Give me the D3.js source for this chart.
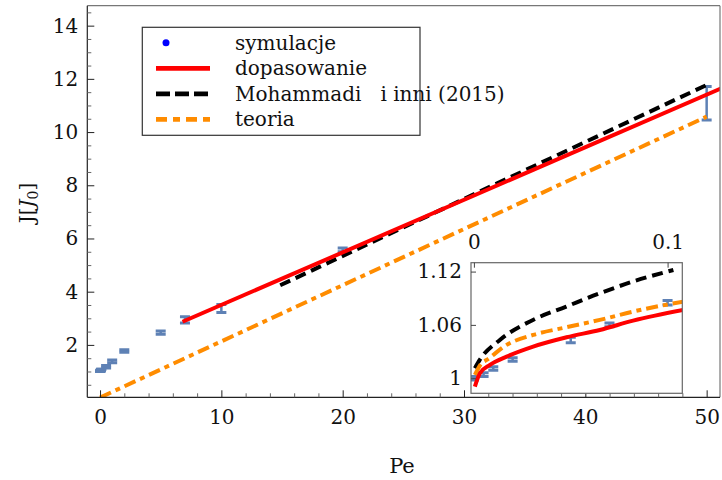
<!DOCTYPE html>
<html><head><meta charset="utf-8">
<script src="https://cdn.jsdelivr.net/npm/d3@7"></script>
<style>
html,body{margin:0;padding:0;background:#fff;}
text{font-family:"DejaVu Serif",serif;fill:#111;}
</style></head>
<body><svg id="c" width="722" height="480"></svg>
<script>
// ---------- data ----------
const simPe  = [0, 0.005, 0.01, 0.02, 0.05, 0.07, 0.1, 0.5, 1, 2, 5, 7, 10, 20, 50];
const simJ   = [1.0, 1.004, 1.011, 1.021, 1.043, 1.060, 1.085, 1.18, 1.38, 1.77, 2.46, 2.94, 3.37, 5.57, 11.08];
const simErr = [0.002, 0.002, 0.002, 0.002, 0.003, 0.002, 0.0025, 0.05, 0.05, 0.05, 0.06, 0.12, 0.15, 0.07, 0.63];

// main-plot curves
const fitPe   = [6.8, 51.5];
const fitJ    = [2.87, 11.70];
const mohPe   = [14.85, 50];
const mohJ    = [4.24, 11.77];
const teoPe   = [0, 50];
const teoJ    = [0.02, 10.58];

// inset curves
const fitInPe = [0.0005, 0.0031, 0.0083, 0.0169, 0.0306, 0.0479, 0.065, 0.0822, 0.108];
const fitInJ  = [0.9906, 1.0056, 1.015, 1.0243, 1.0356, 1.0461, 1.0543, 1.0648, 1.0768];
const mohInPe = [0.0005, 0.003, 0.0134, 0.0305, 0.0477, 0.065, 0.082, 0.103];
const mohInJ  = [1.0113, 1.0206, 1.0431, 1.0656, 1.0806, 1.0956, 1.1087, 1.1218];
const teoInPe = [0.0005, 0.004, 0.0066, 0.0169, 0.0306, 0.0479, 0.065, 0.0822, 0.108];
const teoInJ  = [1.0037, 1.0169, 1.0206, 1.0375, 1.0487, 1.0574, 1.0656, 1.075, 1.0862];

const xMajor = [0, 10, 20, 30, 40, 50];
const yMajor = [2, 4, 6, 8, 10, 12, 14];
const insetXTicks = [0, 0.1];
const insetXLabels = ["0", "0.1"];
const insetYTicks = [1, 1.06, 1.12];
const insetYLabels = ["1", "1.06", "1.12"];
const legendLabels = ["symulacje", "dopasowanie", "Mohammadi   i inni (2015)", "teoria"];

// ---------- drawing ----------
const svg = d3.select("#c");
const C = {fit:"#ff0000", moh:"#000000", teo:"#ff8c00", sim:"#5e81b5"};

const L = 87.3, R = 720, T = 5.7, B = 397.3;
const x = d3.scaleLinear().domain([-1.05, 51.1]).range([L, R]);
const y = d3.scaleLinear().domain([0.03, 14.75]).range([B, T]);

svg.append("defs").append("clipPath").attr("id","cm")
  .append("rect").attr("x",L).attr("y",T).attr("width",R-L).attr("height",B-T);

const gMain = svg.append("g").attr("clip-path","url(#cm)");

function drawLine(g, xs, ys, sx, sy, color, dash, w){
  const pts = xs.map((v,i)=>[v, ys[i]]);
  g.append("path").datum(pts)
    .attr("d", d3.line().x(d=>sx(d[0])).y(d=>sy(d[1])).curve(d3.curveMonotoneX))
    .attr("fill","none").attr("stroke",color).attr("stroke-width",w)
    .attr("stroke-dasharray",dash||null);
}
function drawErr(g, sx, sy, xs, ys, es, pe){
  xs.forEach((v,i)=>{
    const cx = sx(v), y1 = sy(ys[i]+es[i]), y2 = sy(ys[i]-es[i]);
    g.append("line").attr("x1",cx).attr("x2",cx).attr("y1",y1).attr("y2",y2)
      .attr("stroke",C.sim).attr("stroke-width",2.5);
    [y1,y2].forEach(yy=>g.append("line").attr("x1",cx-5).attr("x2",cx+5)
      .attr("y1",yy).attr("y2",yy).attr("stroke",C.sim).attr("stroke-width",3));
  });
}

drawErr(gMain, x, y, simPe, simJ, simErr);
drawLine(gMain, teoPe, teoJ, x, y, C.teo, "12,5,5,5", 4);
drawLine(gMain, mohPe, mohJ, x, y, C.moh, "11,6", 4);
drawLine(gMain, fitPe, fitJ, x, y, C.fit, null, 4);

// frame
svg.append("line").attr("x1",L).attr("x2",R).attr("y1",T).attr("y2",T).attr("stroke","#777").attr("stroke-width",1.2);
svg.append("line").attr("x1",R).attr("x2",R).attr("y1",T).attr("y2",B).attr("stroke","#777").attr("stroke-width",1.2);
svg.append("line").attr("x1",L).attr("x2",R).attr("y1",B).attr("y2",B).attr("stroke","#222").attr("stroke-width",1.2);
svg.append("line").attr("x1",L).attr("x2",L).attr("y1",T).attr("y2",B).attr("stroke","#222").attr("stroke-width",1.2);

// ticks
const xAxis = d3.axisBottom(x).tickValues(xMajor).tickSize(-7).tickPadding(13).tickFormat(d3.format("d"));
const gx = svg.append("g").attr("transform",`translate(0,${B})`).call(xAxis);
gx.select(".domain").remove();
gx.selectAll("line").attr("stroke","#222");
gx.selectAll("text").attr("font-size",20).attr("font-family","DejaVu Serif").attr("fill","#111");
const xMinor = d3.range(2, 51, 2).filter(v=>v%10!==0);
const gxm = svg.append("g").attr("transform",`translate(0,${B})`)
  .call(d3.axisBottom(x).tickValues(xMinor).tickSize(-4).tickFormat(""));
gxm.select(".domain").remove(); gxm.selectAll("line").attr("stroke","#666");

const yAxis = d3.axisLeft(y).tickValues(yMajor).tickSize(-7).tickPadding(9).tickFormat(d3.format("d"));
const gy = svg.append("g").attr("transform",`translate(${L},0)`).call(yAxis);
gy.select(".domain").remove();
gy.selectAll("line").attr("stroke","#222");
gy.selectAll("text").attr("font-size",20).attr("font-family","DejaVu Serif").attr("fill","#111");
const yMinor = d3.range(0.5, 14.75, 0.5).filter(v=>v%2!==0);
const gym = svg.append("g").attr("transform",`translate(${L},0)`)
  .call(d3.axisLeft(y).tickValues(yMinor).tickSize(-4).tickFormat(""));
gym.select(".domain").remove(); gym.selectAll("line").attr("stroke","#666");

// axis labels
svg.append("text").attr("x",402).attr("y",473).attr("text-anchor","middle").attr("font-size",21).text("Pe");
const yl = svg.append("text").attr("transform","translate(34,203) rotate(-90)").attr("text-anchor","middle").attr("font-size",20);
yl.append("tspan").text("J[");
yl.append("tspan").attr("font-style","italic").text("J");
yl.append("tspan").attr("font-size",14).attr("dy",4).text("0");
yl.append("tspan").attr("dy",-4).text("]");

// legend
const lg = svg.append("g");
lg.append("rect").attr("x",142.3).attr("y",27.3).attr("width",277.7).attr("height",108)
  .attr("fill","#fff").attr("stroke","#333").attr("stroke-width",1.2);
const rows = [42.7, 68.3, 93.8, 119.3];
lg.append("circle").attr("cx",166).attr("cy",rows[0]).attr("r",3.5).attr("fill","#0000ff");
[[C.fit,null],[C.moh,"14,5"],[C.teo,"11,6,7,6"]].forEach((s,i)=>{
  lg.append("line").attr("x1",156).attr("x2",210).attr("y1",rows[i+1]).attr("y2",rows[i+1])
    .attr("stroke",s[0]).attr("stroke-width",4.7).attr("stroke-dasharray",s[1]);
});
legendLabels.forEach((t,i)=>{
  lg.append("text").attr("x",235).attr("y",rows[i]).attr("dy","0.35em").attr("font-size",20)
    .attr("xml:space","preserve").style("white-space","pre").text(t);
});

// inset
const iL = 471, iR = 682.3, iT = 262.7, iB = 393.3;
const xi = d3.scaleLinear().domain([-0.0015, 0.1076]).range([iL, iR]);
const yi = d3.scaleLinear().domain([0.983, 1.130]).range([iB, iT]);
svg.append("rect").attr("x",iL).attr("y",iT).attr("width",iR-iL).attr("height",iB-iT)
  .attr("fill","#fff").attr("stroke","none");
svg.select("defs").append("clipPath").attr("id","ci")
  .append("rect").attr("x",iL).attr("y",iT).attr("width",iR-iL).attr("height",iB-iT);
const gIn = svg.append("g").attr("clip-path","url(#ci)");
drawErr(gIn, xi, yi, simPe, simJ, simErr);
drawLine(gIn, mohInPe, mohInJ, xi, yi, C.moh, "11,6", 4);
drawLine(gIn, teoInPe, teoInJ, xi, yi, C.teo, "12,5,5,5", 4);
drawLine(gIn, fitInPe, fitInJ, xi, yi, C.fit, null, 4);
svg.append("rect").attr("x",iL).attr("y",iT).attr("width",iR-iL).attr("height",iB-iT)
  .attr("fill","none").attr("stroke","#666").attr("stroke-width",1.2);

const gix = svg.append("g").attr("transform",`translate(0,${iT})`)
  .call(d3.axisTop(xi).tickValues(insetXTicks).tickSize(-5).tickPadding(14).tickFormat((d,i)=>insetXLabels[i]));
gix.select(".domain").remove(); gix.selectAll("line").attr("stroke","#444");
gix.selectAll("text").attr("font-size",20).attr("font-family","DejaVu Serif").attr("fill","#111");
const giy = svg.append("g").attr("transform",`translate(${iL},0)`)
  .call(d3.axisLeft(yi).tickValues(insetYTicks).tickSize(-5).tickPadding(9).tickFormat((d,i)=>insetYLabels[i]));
giy.select(".domain").remove(); giy.selectAll("line").attr("stroke","#444");
giy.selectAll("text").attr("font-size",20).attr("font-family","DejaVu Serif").attr("fill","#111");
</script></body></html>
